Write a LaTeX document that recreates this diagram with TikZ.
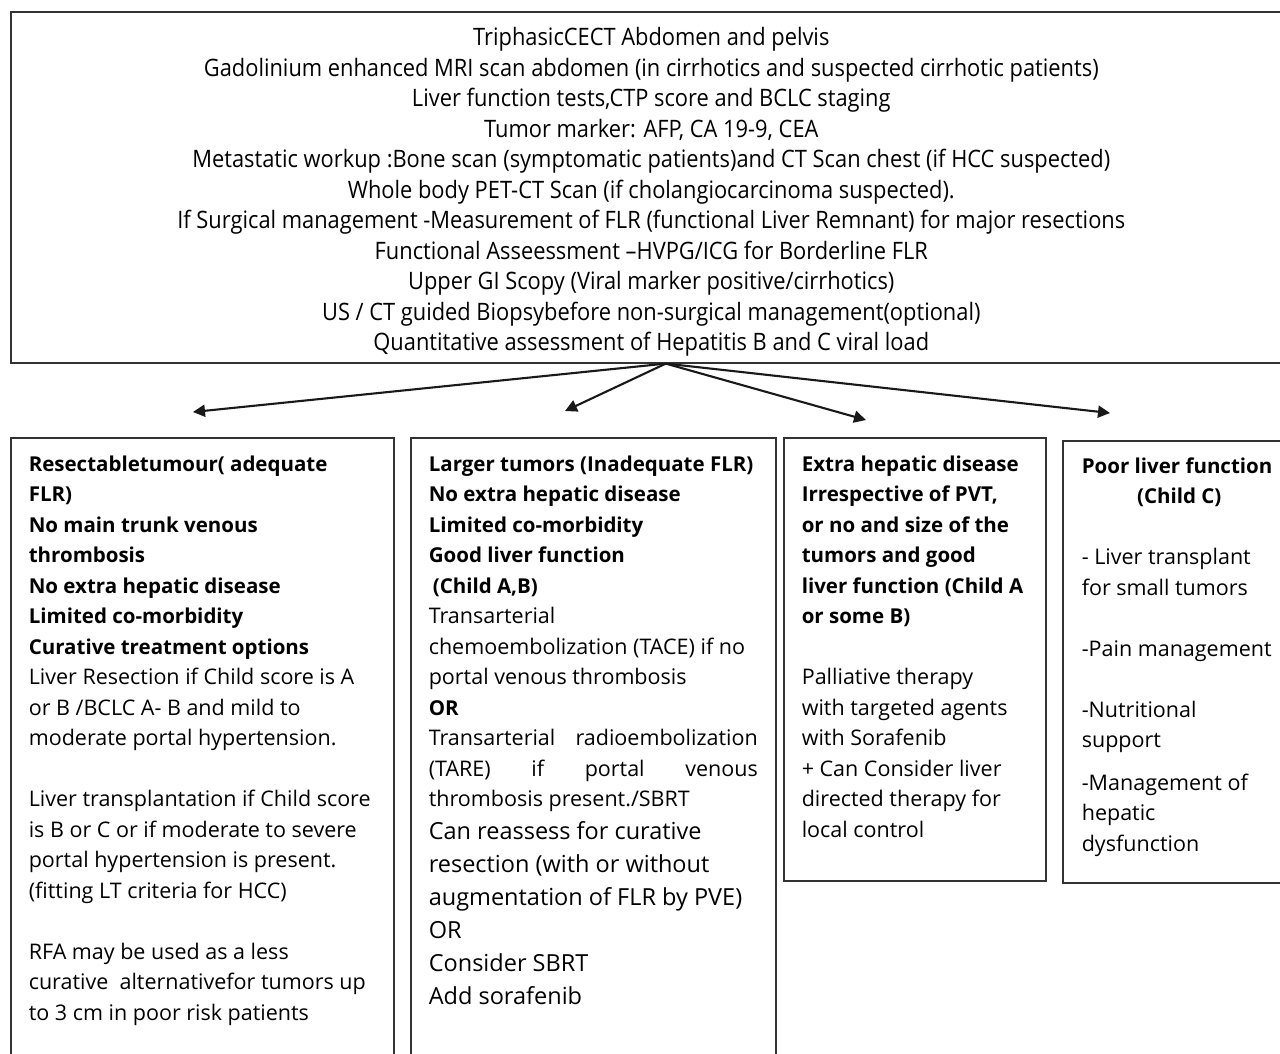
\documentclass[tikz,border=0pt]{standalone}
\usepackage{fontspec}
\setmainfont{Open Sans}
\newfontfamily\condfont[FakeStretch=0.91]{Open Sans}
\usetikzlibrary{arrows.meta}

\tikzset{
  boxline/.style={draw=black!80, line width=1.6pt, inner sep=0pt},
  forkarrow/.style={draw=black!90, line width=2.1pt, -{Triangle[length=12pt,width=12pt]}}
}
\newcommand{\headfont}{\bfseries\fontsize{20.5}{30.5}\selectfont}

\begin{document}
\begin{tikzpicture}[scale=1.000000,x=1pt,y=-1pt]
\useasboundingbox[fill=white] (0.000000,0.000000) rectangle (1280.000000,1053.000000);
% Drawing work-up box
\node[boxline, anchor=north west, inner xsep=20pt, inner ysep=15.5pt] (workup) at (10.000000,11.000000)
  {\parbox[t][320pt][t]{1241pt}{\centering\condfont\fontsize{24}{30.5}\selectfont
   TriphasicCECT Abdomen and pelvis\\
   Gadolinium enhanced MRI scan abdomen (in cirrhotics and suspected cirrhotic patients)\\
   Liver function tests,CTP score and BCLC staging\\
   Tumor marker: AFP, CA 19-9, CEA\\
   Metastatic workup :Bone scan (symptomatic patients)and CT Scan chest (if HCC suspected)\\
   Whole body PET-CT Scan (if cholangiocarcinoma suspected).\\
   If Surgical management -Measurement of FLR (functional Liver Remnant) for major resections\\
   Functional Asseessment \textendash HVPG/ICG for Borderline FLR\\
   Upper GI Scopy (Viral marker positive/cirrhotics)\\
   US / CT guided Biopsybefore non-surgical management(optional)\\
   Quantitative assessment of Hepatitis B and C viral load\par}};
% Done with work-up box; drawing option boxes
% Box 1: resectable
\node[boxline, anchor=north west, inner xsep=18pt, inner ysep=18pt] (resect) at (10.000000,437.000000)
  {\parbox[t][640pt][t]{347pt}{\fontsize{21.5}{30.5}\selectfont
   {\headfont Resectabletumour( adequate\\
   FLR)\\
   No main trunk venous\\
   thrombosis\\
   No extra hepatic disease\\
   Limited co-morbidity\\
   Curative treatment options}\\
   Liver Resection if Child score is A\\
   or B /BCLC A- B and mild to\\
   moderate portal hypertension.\\[30.5pt]
   Liver transplantation if Child score\\
   is B or C or if moderate to severe\\
   portal hypertension is present.\\
   (fitting LT criteria for HCC)\\[30.5pt]
   RFA may be used as a less\\
   curative\ \ alternativefor tumors up\\
   to 3 cm in poor risk patients\par}};
% Box 2: larger tumors
\node[boxline, anchor=north west, inner xsep=18pt, inner ysep=18pt] (larger) at (410.000000,437.000000)
  {\parbox[t][640pt][t]{329pt}{\fontsize{21.5}{30.5}\selectfont
   {\headfont Larger tumors (Inadequate FLR)\\
   No extra hepatic disease\\
   Limited co-morbidity\\
   Good liver function\\
   \hspace*{4pt}(Child A,B)}\\
   Transarterial\\
   chemoembolization (TACE) if no\\
   portal venous thrombosis\\
   {\headfont OR}\\
   Transarterial\hfill radioembolization\\
   (TARE)\hfill if\hfill portal\hfill venous\\
   thrombosis present./SBRT\par
   \fontsize{23.5}{33}\selectfont
   Can reassess for curative\\
   resection (with or without\\
   augmentation of FLR by PVE)\\
   OR\\
   Consider SBRT\\
   Add sorafenib\par}};
% Box 3: extra hepatic disease
\node[boxline, anchor=north west, inner xsep=18pt, inner ysep=18pt] (extra) at (783.000000,437.000000)
  {\parbox[t][407pt][t]{226pt}{\fontsize{21.5}{30.5}\selectfont
   {\headfont Extra hepatic disease\\
   Irrespective of PVT,\\
   or no and size of the\\
   tumors and good\\
   liver function (Child A\\
   or some B)}\\[30.5pt]
   Palliative therapy\\
   with targeted agents\\
   with Sorafenib\\
   + Can Consider liver\\
   directed therapy for\\
   local control\par}};
% Box 4: poor liver function
\node[boxline, anchor=north west, inner xsep=19pt, inner ysep=17pt] (poor) at (1062.000000,440.000000)
  {\parbox[t][408pt][t]{195pt}{\fontsize{21.5}{30.5}\selectfont
   {\headfont Poor liver function\\
   \hspace*{0pt}\hfill(Child C)\hfill\hspace*{0pt}}\\[30.5pt]
   - Liver transplant\\
   for small tumors\\[30.5pt]
   -Pain management\\[30.5pt]
   -Nutritional\\
   support\\[12pt]
   -Management of\\
   hepatic\\
   dysfunction\par}};
% Done with boxes; drawing arrows
\coordinate (toresect) at (193.000000,412.000000);
\coordinate (tolarger) at (565.000000,411.000000);
\coordinate (toextra) at (866.000000,420.000000);
\coordinate (topoor) at (1110.000000,413.000000);
\draw[forkarrow] ([xshift=14.5pt]workup.south) -- (toresect);
\draw[forkarrow] ([xshift=14.5pt]workup.south) -- (tolarger);
\draw[forkarrow] ([xshift=14.5pt]workup.south) -- (toextra);
\draw[forkarrow] ([xshift=14.5pt]workup.south) -- (topoor);
% Done with arrows
\end{tikzpicture}
\end{document}
